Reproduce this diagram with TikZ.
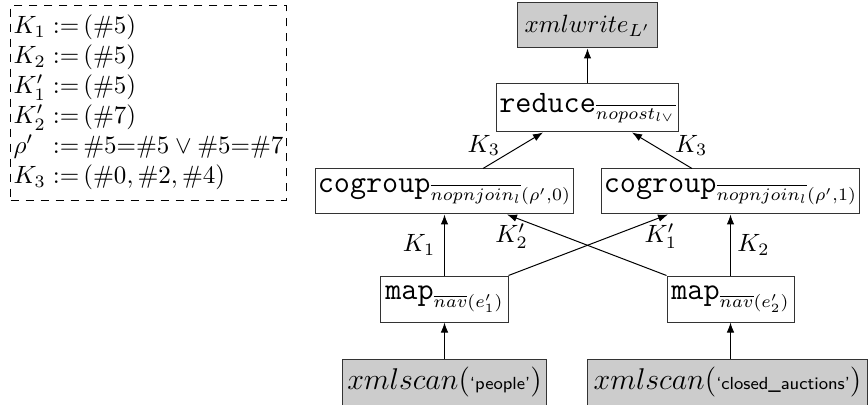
\documentclass[tikz,border=0pt]{standalone}
\usepackage{amssymb,amsmath}
\usepackage{tikz}
\usetikzlibrary{positioning,arrows.meta}

\newcommand{\opname}[1]{\mbox{\fontsize{12.5}{14}\selectfont\texttt{#1}}}
\newcommand{\scanname}[1]{{\large$xmlscan($\textsf{\scriptsize`#1'}$)$}}
\tikzset{
	op/.style={draw=black!80,rectangle,minimum height=18pt,inner sep=1pt},
	src/.style={op,fill=gray!40},
	lbl/.style={inner sep=1pt},
	>={Latex[length=4pt,width=3pt]}
}

\begin{document}
\begin{tikzpicture}[x=0.4pt,y=-0.4pt]
	\useasboundingbox (0,0) rectangle (868,405);
	\node[draw,dash pattern=on 3.5pt off 2.5pt,inner sep=1.2pt,minimum height=78pt,anchor=north west](keys) at (10,5){$\begin{array}{@{}l@{\;}l@{}}
		K_1 & {:=}\,(\#5)\\
		K_2 & {:=}\,(\#5)\\
		K'_1 & {:=}\,(\#5)\\
		K'_2 & {:=}\,(\#7)\\
		\rho' & {:=}\,\#5{=}\#5\vee\#5{=}\#7\\
		K_3 & {:=}\,(\#0,\#2,\#4)
	\end{array}$};
	\node[src,minimum width=56pt](wr) at (587.5,25.5){$xmlwrite_{L'}$};
	\node[op,minimum width=72.4pt,minimum height=19.2pt](red)[below=14pt of wr]{$\opname{reduce}_{\overline{nopost_{l\vee}}}$};
	\node[op,minimum width=102pt](cgl)[below=14.4pt of red,xshift=-57.2pt]{$\opname{cogroup}_{\overline{nopnjoin_l}(\rho',0)}$};
	\node[op,minimum width=102pt](cgr)[below=14.4pt of red,xshift=57.2pt]{$\opname{cogroup}_{\overline{nopnjoin_l}(\rho',1)}$};
	\node[op,minimum width=50.8pt,minimum height=18.4pt](mapl)[below=24.4pt of cgl]{$\opname{map}_{\overline{nav}(e'_1)}$};
	\node[op,minimum width=50.8pt,minimum height=18.4pt](mapr)[below=24.4pt of cgr]{$\opname{map}_{\overline{nav}(e'_2)}$};
	\node[src,minimum width=81.6pt,minimum height=18.4pt](scl)[below=14.4pt of mapl]{\scanname{people}};
	\node[src,minimum width=112pt,minimum height=18.4pt](scr)[below=14.4pt of mapr,xshift=-1.2pt]{\scanname{closed\_auctions}};
	\path[->](red) edge (wr);
	\path[->]([xshift=15.4pt]cgl.north) edge node[lbl,left=4pt,yshift=2pt]{$K_3$} ([xshift=-17.8pt]red.south);
	\path[->]([xshift=-15.4pt]cgr.north) edge node[lbl,right=4pt,yshift=2pt]{$K_3$} ([xshift=17.8pt]red.south);
	\path[->](mapl) edge node[lbl,left=2.5pt]{$K_1$} (cgl);
	\path[->](mapr) edge node[lbl,right=1.5pt]{$K_2$} (mapr|-cgr.south);
	\path[->](mapl.north east) edge node[lbl,pos=0.94,below=0pt,xshift=1pt,yshift=-1pt]{$K'_1$} ([xshift=-25pt]cgr.south);
	\path[->](mapr.north west) edge node[lbl,pos=0.94,below=0pt,xshift=-2pt,yshift=-1pt]{$K'_2$} ([xshift=25pt]cgl.south);
	\path[->](scl) edge (mapl);
	\path[->](scr.north-|mapr) edge (mapr);
\end{tikzpicture}
\end{document}
